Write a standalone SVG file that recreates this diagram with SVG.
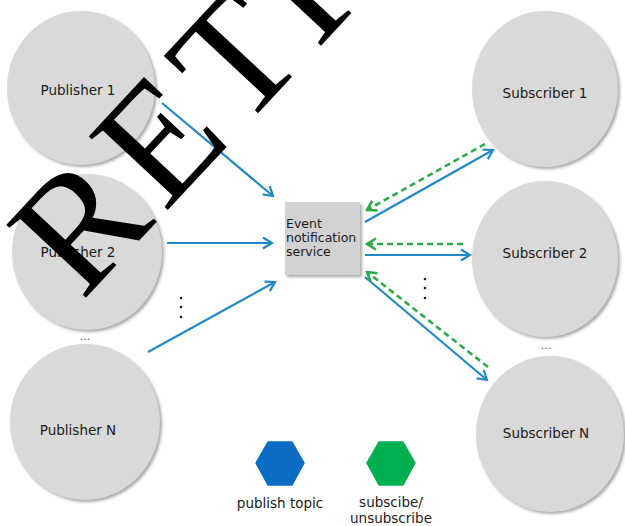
<svg xmlns="http://www.w3.org/2000/svg" width="625" height="526" viewBox="0 0 625 526">
<style>
.node{fill:#d9d9d9}
.shadow{fill:#a9a9a9;filter:url(#blur)}
.lbl{font-family:"DejaVu Sans",Verdana,sans-serif;font-size:13.5px;fill:#1a1a1a;text-anchor:middle}
.box{font-family:"DejaVu Sans",Verdana,sans-serif;font-size:12.5px;fill:#1a1a1a}
.pub{stroke:#2189c5;stroke-width:2.2;fill:none;marker-end:url(#ab)}
.sub{stroke:#2eaa4a;stroke-width:2.6;fill:none;stroke-dasharray:6 4;marker-end:url(#ag)}
.dots{font-family:"DejaVu Sans",sans-serif;font-size:11px;fill:#555;text-anchor:middle}
.leg{font-family:"DejaVu Sans",Verdana,sans-serif;font-size:13.5px;fill:#1a1a1a;text-anchor:middle}
</style>
<defs>
<filter id="blur" x="-10%" y="-10%" width="120%" height="120%"><feGaussianBlur stdDeviation="1.5"/></filter>
<marker id="ab" viewBox="-11 -7 13 14" refX="0" refY="0" markerWidth="13" markerHeight="14" markerUnits="userSpaceOnUse" orient="auto">
<path d="M-9,-5.5 L0,0 L-9,5.5" fill="none" stroke="#2189c5" stroke-width="2.2"/>
</marker>
<marker id="ag" viewBox="-11 -7 13 14" refX="0" refY="0" markerWidth="13" markerHeight="14" markerUnits="userSpaceOnUse" orient="auto">
<path d="M-9,-5.5 L0,0 L-9,5.5" fill="none" stroke="#2eaa4a" stroke-width="2.6"/>
</marker>
</defs>
<rect width="625" height="526" fill="#ffffff"/>

<g id="publisher1">
<ellipse class="shadow" cx="83" cy="90" rx="74" ry="77"/>
<ellipse class="node" cx="81" cy="88" rx="74" ry="77"/>
<text class="lbl" x="78" y="95">Publisher 1</text>
</g>
<g id="publisher2">
<ellipse class="shadow" cx="89" cy="254" rx="75" ry="78"/>
<ellipse class="node" cx="87" cy="252" rx="75" ry="78"/>
<text class="lbl" x="78" y="257">Publisher 2</text>
</g>
<g id="publisherN">
<ellipse class="shadow" cx="87" cy="424" rx="75" ry="78"/>
<ellipse class="node" cx="85" cy="422" rx="75" ry="78"/>
<text class="lbl" x="78" y="435">Publisher N</text>
</g>
<g id="subscriber1">
<ellipse class="shadow" cx="547" cy="91" rx="73" ry="78"/>
<ellipse class="node" cx="545" cy="89" rx="73" ry="78"/>
<text class="lbl" x="545" y="98">Subscriber 1</text>
</g>
<g id="subscriber2">
<ellipse class="shadow" cx="547" cy="261" rx="73" ry="78"/>
<ellipse class="node" cx="545" cy="259" rx="73" ry="78"/>
<text class="lbl" x="545" y="258">Subscriber 2</text>
</g>
<g id="subscriberN">
<ellipse class="shadow" cx="552" cy="436" rx="74" ry="78"/>
<ellipse class="node" cx="550" cy="434" rx="74" ry="78"/>
<text class="lbl" x="546" y="438">Subscriber N</text>
</g>
<g id="service">
<rect x="287" y="204" width="75" height="73" fill="#a9a9a9" filter="url(#blur)"/>
<rect x="285" y="202" width="75" height="73" fill="#d2d2d2"/>
<text class="box" x="286" y="228">Event</text>
<text class="box" x="286" y="242">notification</text>
<text class="box" x="286" y="256">service</text>
</g>

<g id="connectors">
<line class="pub" x1="162" y1="103" x2="273" y2="196"/>
<line class="pub" x1="167" y1="243" x2="272" y2="243"/>
<line class="pub" x1="148" y1="352" x2="275" y2="282"/>
<line class="pub" x1="365" y1="222" x2="493" y2="150"/>
<line class="pub" x1="365" y1="255" x2="470" y2="255"/>
<line class="pub" x1="365" y1="277" x2="487" y2="380"/>
<line class="sub" x1="485" y1="144" x2="367" y2="210"/>
<line class="sub" x1="463" y1="244" x2="367" y2="244"/>
<line class="sub" x1="488" y1="367" x2="367" y2="272"/>
</g>

<g id="ellipses">
<text class="dots" x="85" y="340">...</text>
<text class="dots" x="546" y="349">...</text>
<circle cx="181" cy="298" r="1.3" fill="#222"/>
<circle cx="181" cy="307" r="1.3" fill="#222"/>
<circle cx="181" cy="317" r="1.3" fill="#222"/>
<circle cx="425" cy="279" r="1.3" fill="#222"/>
<circle cx="425" cy="288" r="1.3" fill="#222"/>
<circle cx="425" cy="298" r="1.3" fill="#222"/>
</g>

<g id="legend-publish">
<polygon points="256,463 268,442 292,442 304,463 292,485 268,485" fill="#0b6cc4" stroke="#0b6cc4" stroke-width="1.5" stroke-linejoin="round"/>
<text class="leg" x="280" y="508">publish topic</text>
</g>
<g id="legend-subscribe">
<polygon points="367,463 379,442 403,442 415,463 403,485 379,485" fill="#00b050" stroke="#00b050" stroke-width="1.5" stroke-linejoin="round"/>
<text class="leg" x="391" y="507">subscibe/</text>
<text class="leg" x="391" y="523">unsubscribe</text>
</g>

<text id="watermark" x="0" y="0" transform="translate(82,302) rotate(-47)" font-family="Liberation Serif, Times New Roman, serif" font-size="165" letter-spacing="11" fill="#000000">RETRACTED</text>
</svg>
